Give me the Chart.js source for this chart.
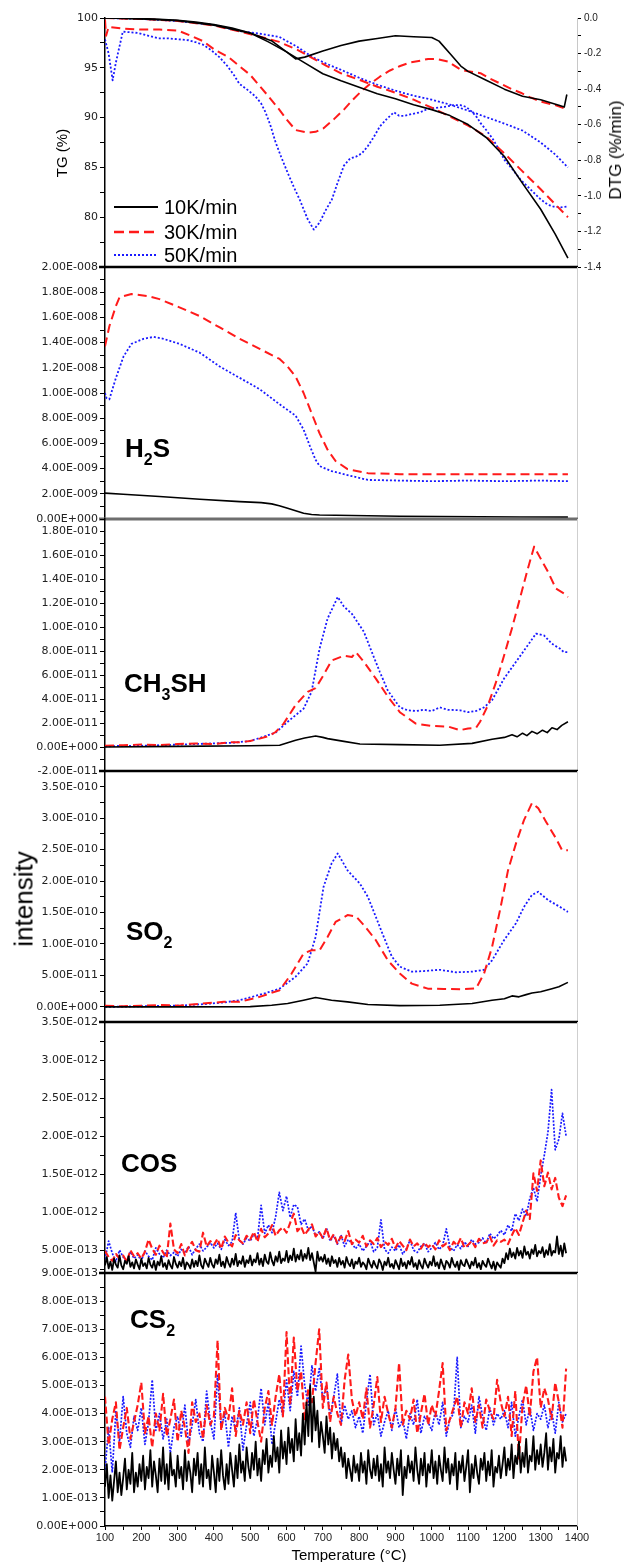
<!DOCTYPE html>
<html><head><meta charset="utf-8">
<script src="https://cdn.jsdelivr.net/npm/chart.js@4/dist/chart.umd.min.js"></script>
<style>
html,body{margin:0;padding:0;background:#fff;}
#wrap{position:relative;width:625px;height:1562px;overflow:hidden;font-family:"Liberation Sans",Arial,sans-serif;color:#000;}
canvas{position:absolute;left:0;}
.rot{position:absolute;transform:translate(-50%,-50%) rotate(-90deg);white-space:nowrap;z-index:5;}
.gas{position:absolute;font-weight:bold;font-size:26px;line-height:26px;white-space:nowrap;z-index:5;}
.gas sub{font-size:16px;vertical-align:-8px;line-height:0;}
.leg{position:absolute;left:164px;font-size:20px;line-height:20px;white-space:nowrap;z-index:5;}
.legsvg{position:absolute;left:114px;z-index:5;}
</style></head>
<body><div id="wrap">
<canvas id="p1" width="625" height="273" style="top:6px"></canvas>
<canvas id="p2" width="625" height="276" style="top:255px"></canvas>
<canvas id="p3" width="625" height="276" style="top:507px"></canvas>
<canvas id="p4" width="625" height="275" style="top:759px"></canvas>
<canvas id="p5" width="625" height="275" style="top:1010px"></canvas>
<canvas id="p6" width="625" height="301" style="top:1261px"></canvas>

<div class="rot" style="left:61px;top:153px;font-size:15px">TG (%)</div>
<div class="rot" style="left:616px;top:150px;font-size:17px">DTG (%/min)</div>
<div class="rot" style="left:24px;top:899px;font-size:26px">intensity</div>
<div style="position:absolute;left:349px;top:1554px;transform:translate(-50%,-50%);font-size:15px;white-space:nowrap;z-index:5">Temperature (°C)</div>

<svg class="legsvg" style="top:204px" width="46" height="6"><line x1="0" y1="3" x2="44" y2="3" stroke="#000" stroke-width="2"/></svg>
<svg class="legsvg" style="top:229px" width="46" height="6"><line x1="0" y1="3" x2="44" y2="3" stroke="#ff1a1a" stroke-width="2.5" stroke-dasharray="10 5"/></svg>
<svg class="legsvg" style="top:252px" width="46" height="6"><line x1="0" y1="3" x2="44" y2="3" stroke="#1a1aff" stroke-width="2" stroke-dasharray="2 2"/></svg>
<div class="leg" style="top:197px">10K/min</div>
<div class="leg" style="top:222px">30K/min</div>
<div class="leg" style="top:245px">50K/min</div>

<div class="gas" style="left:125px;top:435px">H<sub>2</sub>S</div>
<div class="gas" style="left:124px;top:670px">CH<sub>3</sub>SH</div>
<div class="gas" style="left:126px;top:918px">SO<sub>2</sub></div>
<div class="gas" style="left:121px;top:1150px">COS</div>
<div class="gas" style="left:130px;top:1306px">CS<sub>2</sub></div>
</div>
<script>
// ---------- temperature grids (°C) ----------
const temps10 = [100,110,120,130,140,150,160,170,180,190,
200,210,220,230,240,250,260,270,280,290,
300,310,320,330,340,350,360,370,380,390,
400,410,420,430,440,450,460,470,480,490,
500,510,520,530,540,550,560,570,580,590,
600,610,620,630,640,650,660,670,680,690,
700,710,720,730,740,750,760,770,780,790,
800,810,820,830,840,850,860,870,880,890,
900,910,920,930,940,950,960,970,980,990,
1000,1010,1020,1030,1040,1050,1060,1070,1080,1090,
1100,1110,1120,1130,1140,1150,1160,1170,1180,1190,
1200,1210,1220,1230,1240,1250,1260,1270,1280,1290,
1300,1310,1320,1330,1340,1350,1360,1370];
const temps5 = [100,105,110,115,120,125,130,135,140,145,
150,155,160,165,170,175,180,185,190,195,
200,205,210,215,220,225,230,235,240,245,
250,255,260,265,270,275,280,285,290,295,
300,305,310,315,320,325,330,335,340,345,
350,355,360,365,370,375,380,385,390,395,
400,405,410,415,420,425,430,435,440,445,
450,455,460,465,470,475,480,485,490,495,
500,505,510,515,520,525,530,535,540,545,
550,555,560,565,570,575,580,585,590,595,
600,605,610,615,620,625,630,635,640,645,
650,655,660,665,670,675,680,685,690,695,
700,705,710,715,720,725,730,735,740,745,
750,755,760,765,770,775,780,785,790,795,
800,805,810,815,820,825,830,835,840,845,
850,855,860,865,870,875,880,885,890,895,
900,905,910,915,920,925,930,935,940,945,
950,955,960,965,970,975,980,985,990,995,
1000,1005,1010,1015,1020,1025,1030,1035,1040,1045,
1050,1055,1060,1065,1070,1075,1080,1085,1090,1095,
1100,1105,1110,1115,1120,1125,1130,1135,1140,1145,
1150,1155,1160,1165,1170,1175,1180,1185,1190,1195,
1200,1205,1210,1215,1220,1225,1230,1235,1240,1245,
1250,1255,1260,1265,1270,1275,1280,1285,1290,1295,
1300,1305,1310,1315,1320,1325,1330,1335,1340,1345,
1350,1355,1360,1365,1370];

// ---------- Panel 1: TG (%) and DTG (%/min) ----------
const tgBlackT = [100,150,200,250,300,350,400,450,500,550,600,650,700,750,800,850,900,950,1000,1050,1100,1150,1200,1250,1300,1340,1375];
const tgBlackV = [100,99.98,99.94,99.87,99.77,99.6,99.35,99.0,98.5,97.6,96.6,95.5,94.4,93.7,93.05,92.4,91.9,91.3,90.8,90.2,89.3,88.0,86.1,83.4,80.8,78.3,75.9];
const tgRedT = [100,200,300,400,470,530,580,630,670,710,750,800,850,900,950,1000,1050,1100,1150,1200,1250,1300,1340,1375];
const tgRedV = [100,99.9,99.7,99.25,98.65,98.1,97.6,96.8,96.0,95.2,94.45,93.8,93.1,92.5,91.8,91.0,90.1,89.2,88.1,86.4,84.6,82.8,81.3,80.0];
const tgBlueT = [100,200,300,400,470,530,580,630,670,710,750,800,850,900,950,1000,1050,1100,1150,1200,1250,1300,1340,1375];
const tgBlueV = [100,99.9,99.7,99.3,98.7,98.4,98.1,97.1,96.1,95.4,94.8,94.0,93.3,92.7,92.2,91.8,91.3,90.7,90.05,89.4,88.7,87.5,86.3,85.0];
const dtgBlackT = [100,200,300,400,500,560,600,625,650,700,750,800,850,900,950,1000,1020,1050,1080,1100,1150,1200,1250,1300,1350,1365,1372];
const dtgBlackV = [0,-0.005,-0.015,-0.04,-0.085,-0.13,-0.19,-0.23,-0.22,-0.185,-0.155,-0.13,-0.115,-0.10,-0.105,-0.11,-0.13,-0.20,-0.27,-0.30,-0.35,-0.40,-0.44,-0.46,-0.49,-0.50,-0.43];
const dtgRedT = [100,103,110,150,200,250,300,337,370,403,440,470,500,525,550,580,600,625,658,680,702,730,758,780,802,830,857,885,913,940,968,990,1012,1045,1079,1100,1134,1160,1190,1220,1245,1270,1300,1340,1375];
const dtgRedV = [-0.01,-0.1,-0.05,-0.06,-0.065,-0.065,-0.07,-0.10,-0.13,-0.18,-0.22,-0.27,-0.32,-0.38,-0.44,-0.515,-0.57,-0.63,-0.645,-0.64,-0.62,-0.57,-0.515,-0.465,-0.42,-0.37,-0.33,-0.295,-0.27,-0.25,-0.24,-0.23,-0.23,-0.245,-0.29,-0.30,-0.31,-0.34,-0.37,-0.40,-0.42,-0.445,-0.47,-0.49,-0.515];
const dtgBlueT = [100,110,121,130,149,170,193,220,248,275,304,330,348,370,392,415,437,455,470,490,514,530,542,555,570,585,603,620,636,658,675,691,708,725,740,758,775,791,808,824,840,857,875,896,910,924,945,968,990,1012,1035,1060,1079,1095,1112,1125,1134,1150,1168,1185,1201,1222,1245,1270,1300,1320,1335,1355,1375];
const dtgBlueV = [-0.12,-0.2,-0.35,-0.25,-0.077,-0.08,-0.085,-0.1,-0.114,-0.115,-0.12,-0.125,-0.135,-0.15,-0.18,-0.22,-0.27,-0.32,-0.37,-0.4,-0.44,-0.48,-0.53,-0.6,-0.70,-0.78,-0.87,-0.95,-1.02,-1.13,-1.19,-1.15,-1.08,-1.02,-0.93,-0.83,-0.79,-0.78,-0.76,-0.72,-0.67,-0.61,-0.57,-0.53,-0.55,-0.55,-0.54,-0.53,-0.51,-0.505,-0.50,-0.49,-0.49,-0.50,-0.53,-0.56,-0.59,-0.63,-0.68,-0.74,-0.80,-0.85,-0.91,-0.96,-1.02,-1.05,-1.06,-1.065,-1.06];

// ---------- Panel 2: H2S (units of 1E-9) ----------
const h2sRedT = [100,112,130,140,173,217,250,305,361,416,471,526,581,603,625,647,669,691,713,735,768,824,912,1000,1100,1200,1300,1375];
const h2sRedV = [13.7,15.3,16.9,17.6,17.85,17.7,17.45,16.8,16.1,15.2,14.3,13.5,12.7,12.1,11.3,10.0,8.4,6.8,5.5,4.6,3.96,3.64,3.56,3.55,3.56,3.55,3.56,3.56];
const h2sBlueT = [100,104,112,129,151,173,206,234,261,305,361,416,471,526,581,625,647,664,680,691,724,780,824,912,1000,1100,1200,1300,1375];
const h2sBlueV = [10.0,9.6,9.5,11.1,12.9,13.9,14.3,14.45,14.3,13.9,13.2,12.1,11.2,10.3,9.1,8.2,7.1,5.8,4.7,4.2,3.8,3.4,3.1,3.05,3.0,3.05,3.0,3.05,3.0];
const h2sBlackT = [100,150,250,361,471,530,559,580,603,625,647,669,691,780,912,1022,1133,1243,1375];
const h2sBlackV = [2.05,1.97,1.78,1.57,1.38,1.3,1.2,1.05,0.85,0.65,0.45,0.36,0.32,0.28,0.22,0.2,0.18,0.16,0.15];

// ---------- Panel 3: CH3SH (units of 1E-11) ----------
const ch3shRedT = [100,150,200,250,300,350,400,450,471,500,526,550,570,592,625,658,680,702,724,758,780,791,813,846,879,912,956,1001,1045,1078,1100,1122,1133,1155,1177,1199,1221,1243,1265,1282,1298,1320,1342,1364,1375];
const ch3shRedV = [0.1,0.15,0.2,0.15,0.25,0.3,0.25,0.4,0.4,0.5,0.7,0.9,1.25,1.95,3.5,4.6,4.9,6.0,7.2,7.6,7.5,7.9,7.1,5.7,4.2,2.9,1.95,1.75,1.7,1.4,1.55,1.6,2.1,3.5,5.4,7.6,9.9,12.4,14.9,16.7,15.8,14.6,13.2,12.8,12.5];
const ch3shBlueT = [100,150,200,250,300,350,400,450,500,526,570,603,647,669,691,713,741,758,780,813,835,857,879,912,934,956,978,1000,1022,1045,1078,1100,1122,1144,1166,1199,1232,1265,1287,1309,1331,1353,1364,1375];
const ch3shBlueV = [0.05,0.1,0.1,0.15,0.2,0.25,0.3,0.35,0.5,0.75,1.2,2.1,3.2,4.6,8.2,10.7,12.5,11.7,11.1,9.6,7.9,6.25,4.7,3.3,3.06,3.0,3.1,3.0,3.3,3.1,3.06,2.9,3.0,3.3,3.9,5.7,7.1,8.5,9.45,9.3,8.6,8.2,7.9,7.9];
const ch3shBlackT = [100,300,500,581,625,650,680,700,713,758,802,912,1022,1111,1166,1200,1221,1235,1250,1262,1276,1290,1305,1318,1331,1345,1358,1375];
const ch3shBlackV = [0.0,0.05,0.1,0.15,0.56,0.75,0.92,0.8,0.7,0.47,0.25,0.2,0.14,0.3,0.64,0.8,1.03,0.85,1.15,0.95,1.3,1.1,1.4,1.2,1.6,1.45,1.8,2.1];

// ---------- Panel 4: SO2 (units of 1E-11) ----------
const so2RedT = [100,150,200,250,304,361,427,471,526,581,614,647,669,691,713,735,768,791,813,846,879,912,945,989,1033,1078,1122,1144,1166,1188,1210,1232,1254,1276,1293,1315,1342,1359,1375];
const so2RedV = [0.2,0.1,0.2,0.3,0.2,0.5,0.8,0.8,1.6,2.65,5.3,8.5,9.0,9.0,11.1,13.5,14.6,14.4,13.0,10.6,7.4,5.3,3.7,2.9,2.85,2.8,2.95,5.3,9.5,15.4,21.7,26.0,29.7,32.4,31.6,29.4,26.8,24.9,24.9];
const so2BlueT = [100,200,304,361,427,471,537,581,625,658,680,702,724,741,768,802,824,846,868,890,912,945,978,1022,1067,1111,1144,1166,1199,1232,1254,1276,1293,1320,1353,1375];
const so2BlueV = [0.0,0.1,0.2,0.4,0.7,1.07,2.1,2.9,4.8,6.9,11.1,19.1,22.8,24.4,21.7,19.6,17.5,14.3,11.1,8.0,6.4,5.6,5.7,5.9,5.5,5.6,5.9,7.4,10.6,13.3,15.9,17.8,18.3,17.0,15.9,15.1];
const so2BlackT = [100,300,500,559,603,647,680,700,724,768,824,912,1022,1111,1166,1200,1221,1240,1260,1276,1300,1331,1350,1375];
const so2BlackV = [0,0,0.05,0.27,0.53,1.07,1.5,1.3,1.07,0.8,0.37,0.2,0.27,0.53,1.07,1.3,1.75,1.6,1.95,2.2,2.4,2.9,3.2,3.9];

// ---------- Panel 5: COS (units of 1E-13) ----------
const cosBlackV = [3.0,4.1,2.6,3.5,2.4,3.9,3.1,2.7,4.3,3.0,
2.5,3.6,3.2,4.2,2.8,3.4,2.6,3.8,3.1,2.5,
3.9,2.9,3.3,2.6,4.0,3.1,2.7,3.6,2.4,3.5,
3.0,4.2,2.8,3.3,2.5,3.7,3.0,2.6,4.1,3.2,
2.7,3.5,2.9,4.0,2.5,3.4,3.1,2.6,3.8,2.8,
3.6,2.9,4.3,3.0,2.6,3.9,3.3,2.8,4.0,3.1,
2.7,3.8,3.2,4.4,2.9,3.5,2.7,4.1,3.3,2.8,
3.9,3.1,4.5,2.9,3.6,3.2,4.2,2.8,3.7,3.3,
4.3,3.0,3.8,3.4,4.6,3.1,3.9,2.9,4.4,3.5,
3.2,4.7,3.6,3.0,4.2,3.5,4.8,3.3,3.9,3.6,
4.9,3.4,4.3,3.7,5.2,3.5,4.4,3.8,5.0,3.6,
4.5,3.9,5.3,3.7,4.6,3.4,2.2,4.8,3.6,4.1,
3.5,4.4,3.2,3.9,2.9,4.2,3.3,3.7,2.8,4.0,
3.1,3.6,2.7,4.1,3.3,2.9,3.8,2.6,3.5,3.2,
4.0,2.8,3.4,3.1,2.5,3.9,3.2,2.7,3.6,3.0,
2.6,3.8,3.3,2.4,3.5,3.0,4.0,2.8,3.2,2.6,
3.7,3.1,2.5,3.9,2.9,3.4,2.6,3.6,3.1,4.1,
2.8,3.3,2.5,3.7,3.0,2.6,3.9,3.2,2.7,3.5,
3.0,4.2,2.9,3.4,2.6,3.8,3.1,2.5,3.6,3.3,
2.7,4.0,3.2,2.8,3.5,2.4,3.7,3.1,2.9,3.8,
3.2,2.6,3.5,3.0,4.0,2.7,3.3,2.5,3.6,3.1,
2.8,3.9,3.2,2.6,3.5,2.4,3.4,3.0,2.7,3.9,
3.3,4.6,3.8,5.2,4.1,4.7,3.9,5.3,4.3,4.9,
4.0,5.5,4.4,4.8,3.9,5.1,4.5,5.7,4.2,4.9,
4.6,5.4,4.1,5.0,4.4,5.8,4.3,4.9,4.7,6.8,
4.5,5.6,4.2,5.9,4.6];
const cosRedV = [4.9,4.1,3.6,4.5,3.9,4.3,3.5,5.0,4.2,4.6,
3.9,4.8,6.4,5.2,4.4,5.6,4.7,4.0,8.5,5.1,
4.6,5.8,4.3,5.4,6.1,5.0,4.8,7.3,5.5,6.2,
5.7,6.5,5.2,6.8,6.0,5.5,7.0,6.3,5.9,6.9,
6.4,7.4,6.1,7.8,6.7,7.2,8.3,6.9,7.6,8.0,
7.3,8.6,9.8,7.5,8.1,7.0,7.7,8.4,6.8,7.4,
6.6,7.9,6.3,7.1,5.9,6.8,6.2,7.5,5.8,6.4,
6.0,6.9,5.5,6.3,5.8,6.6,5.4,6.1,5.7,6.5,
5.3,6.2,5.6,5.0,6.4,5.5,5.9,5.2,6.0,5.4,
5.8,5.1,6.3,5.5,5.9,5.0,6.1,5.6,6.6,5.3,
5.7,6.2,5.4,6.5,5.9,6.0,6.8,5.6,6.3,6.1,
6.4,5.8,6.9,7.9,7.0,8.6,10.2,9.1,15.1,12.8,
16.8,13.4,15.2,13.0,14.5,11.9,10.8,12.2];
const cosBlueV = [3.8,6.2,4.6,3.5,5.0,4.1,3.3,4.8,3.9,4.4,
3.6,4.9,4.2,3.7,5.3,4.5,4.0,5.0,4.3,4.7,
4.2,5.1,4.6,5.5,4.4,5.2,5.8,4.9,5.4,6.0,
5.3,5.9,5.1,6.4,5.6,6.1,9.9,6.3,5.8,6.6,
6.2,7.1,6.5,10.9,7.2,8.3,7.3,9.4,12.6,10.2,
12.1,9.3,11.0,10.7,8.4,9.1,7.6,8.2,6.9,7.4,
6.5,7.9,6.2,6.9,5.8,7.0,5.5,6.4,5.9,5.2,
5.8,4.9,5.5,6.2,4.8,5.3,9.0,5.1,4.6,5.4,
4.9,5.7,4.5,5.2,6.3,5.0,4.7,5.5,5.9,4.8,
5.3,6.0,5.1,5.6,7.8,5.4,4.9,5.7,5.2,6.1,
5.5,6.4,5.8,6.0,6.6,5.9,7.2,6.5,6.9,7.6,
7.0,8.3,7.5,9.8,8.9,10.4,9.5,11.8,13.2,11.4,
14.8,17.5,20.5,26.1,18.2,19.6,23.0,20.0];

// ---------- Panel 6: CS2 (units of 1E-13) ----------
const cs2BlackV = [1.4,2.2,1.0,1.8,0.9,1.6,2.3,1.2,1.9,1.1,
1.7,2.4,1.3,2.0,1.5,2.6,1.2,1.9,1.4,2.2,
1.6,2.5,1.3,2.1,1.7,2.7,1.4,2.3,1.8,1.2,
2.4,1.6,2.8,1.5,2.2,1.3,2.6,1.8,2.0,1.4,
2.5,1.7,2.1,1.3,2.7,1.6,2.3,1.9,1.2,2.4,
1.8,2.6,1.5,2.2,1.4,2.8,1.7,2.0,1.3,2.5,
1.9,1.2,2.4,1.6,2.7,1.8,1.3,2.2,1.5,2.6,
2.0,1.4,2.5,1.7,2.9,1.9,2.3,1.6,2.8,2.1,
1.7,2.6,2.0,3.0,1.8,2.4,1.6,2.7,2.2,3.1,
1.9,2.5,2.1,3.2,2.3,2.8,1.9,3.4,2.4,3.0,
2.2,3.5,2.6,3.1,2.3,3.8,2.7,3.3,2.5,4.0,
2.9,4.4,3.2,5.0,3.0,4.6,3.4,4.1,2.8,3.7,
3.2,2.6,3.9,2.9,3.5,2.4,3.3,2.7,3.1,2.3,
2.8,2.1,2.6,1.7,2.4,2.0,1.6,2.5,1.9,2.2,
1.6,2.6,1.9,2.3,1.5,2.7,2.0,1.7,2.4,1.8,
2.5,1.6,2.2,1.4,2.8,1.9,2.3,1.7,2.6,2.0,
1.5,2.4,1.8,2.7,1.1,2.1,1.7,2.5,1.9,2.3,
1.6,2.8,2.0,1.5,2.4,1.8,2.6,1.4,2.2,1.9,
2.7,1.7,2.3,1.5,2.5,2.0,1.6,2.8,1.9,2.4,
1.5,2.2,1.8,2.6,1.3,2.3,1.9,2.5,1.6,2.1,
2.7,1.2,2.2,1.7,2.5,1.9,1.5,2.4,2.0,2.6,
1.6,2.3,1.8,2.7,1.4,2.1,1.9,2.5,1.7,2.2,
2.8,1.8,2.4,2.0,2.9,1.7,2.5,2.2,3.0,1.9,
2.6,2.1,3.1,1.9,2.5,2.3,3.2,2.0,2.7,2.2,
2.9,2.1,2.6,3.3,2.0,2.8,2.3,3.1,1.9,2.6,
2.4,3.2,2.1,2.8,2.3];
const cs2RedV = [4.6,2.9,3.8,4.4,2.7,3.5,4.2,3.1,3.7,4.3,
5.1,3.3,3.9,2.8,4.0,3.4,4.7,3.2,3.8,4.5,
3.0,4.1,3.5,2.6,4.4,3.7,4.0,3.1,4.3,3.6,
3.9,6.6,3.4,4.2,3.8,4.9,3.2,4.1,3.6,4.4,
3.3,4.5,3.7,3.0,4.2,4.8,3.6,4.6,5.4,3.9,
6.9,4.3,6.7,4.8,5.5,3.8,4.9,4.4,5.8,7.0,
4.2,5.1,3.7,4.6,4.0,3.6,5.2,6.1,4.5,3.9,
4.4,3.8,4.9,3.5,4.3,5.3,3.7,4.6,4.0,3.5,
4.2,5.8,3.6,4.1,3.8,4.5,3.3,4.0,4.7,3.6,
4.3,3.9,4.8,5.8,3.4,3.8,4.2,4.6,3.5,4.4,
4.0,4.9,3.7,4.3,3.5,4.5,4.1,3.8,5.2,4.4,
3.9,4.6,3.2,4.8,2.4,4.3,5.0,3.9,5.5,6.0,
4.2,4.9,4.5,3.8,5.1,4.4,3.5,5.6];
const cs2BlueV = [2.0,3.5,1.9,4.1,3.0,4.6,3.3,2.8,3.9,3.4,
4.2,2.9,3.7,5.2,3.4,4.0,3.1,3.8,2.6,3.5,
3.9,3.2,4.3,2.9,3.6,4.5,3.3,3.0,4.8,3.7,
3.1,5.4,3.5,4.0,2.8,3.9,3.4,4.2,2.7,3.6,
4.4,3.2,3.8,4.9,3.6,4.4,2.9,3.7,4.5,3.9,
5.2,4.1,5.5,4.6,6.4,5.0,4.3,5.7,4.8,5.6,
4.5,5.0,3.9,4.6,5.4,3.6,4.3,3.8,4.1,3.5,
3.9,3.3,4.4,5.4,3.6,4.0,3.2,3.7,4.1,3.4,
4.2,3.5,3.8,3.1,4.0,3.6,4.5,3.3,3.9,3.7,
3.4,4.1,3.6,4.4,3.2,3.8,4.0,6.0,3.5,3.9,
3.7,4.3,3.3,4.6,3.9,3.4,4.2,3.6,4.0,3.8,
4.1,3.5,4.4,3.2,3.9,4.5,3.6,4.2,3.4,4.0,
3.8,4.3,3.5,4.1,3.3,4.4,3.7,4.0];

// ---------- axis ticks and labels ----------
const xTickValues = [100,200,300,400,500,600,700,800,900,1000,1100,1200,1300,1400];
const tgTicks = [80,85,90,95,100];
const tgLabels = ['80','85','90','95','100'];
const dtgTicks = [0,-0.2,-0.4,-0.6,-0.8,-1.0,-1.2,-1.4];
const dtgLabels = ['0.0','-0.2','-0.4','-0.6','-0.8','-1.0','-1.2','-1.4'];
const h2sTicks = [0,2,4,6,8,10,12,14,16,18,20];
const h2sLabels = ['0.00E+000','2.00E-009','4.00E-009','6.00E-009','8.00E-009','1.00E-008','1.20E-008','1.40E-008','1.60E-008','1.80E-008','2.00E-008'];
const ch3shTicks = [-2,0,2,4,6,8,10,12,14,16,18];
const ch3shLabels = ['-2.00E-011','0.00E+000','2.00E-011','4.00E-011','6.00E-011','8.00E-011','1.00E-010','1.20E-010','1.40E-010','1.60E-010','1.80E-010'];
const so2Ticks = [0,5,10,15,20,25,30,35];
const so2Labels = ['0.00E+000','5.00E-011','1.00E-010','1.50E-010','2.00E-010','2.50E-010','3.00E-010','3.50E-010'];
const cosTicks = [5,10,15,20,25,30,35];
const cosLabels = ['5.00E-013','1.00E-012','1.50E-012','2.00E-012','2.50E-012','3.00E-012','3.50E-012'];
const cs2Ticks = [0,1,2,3,4,5,6,7,8,9];
const cs2Labels = ['0.00E+000','1.00E-013','2.00E-013','3.00E-013','4.00E-013','5.00E-013','6.00E-013','7.00E-013','8.00E-013','9.00E-013'];

// ---------- helpers ----------
function tickList(min, max, step){
  const out=[]; const k0=Math.ceil(min/step-1e-9), k1=Math.floor(max/step+1e-9);
  for(let k=k0;k<=k1;k++) out.push(+(k*step).toFixed(6));
  return out;
}
function labelOf(v, majors, labels){
  for(let i=0;i<majors.length;i++){ if(Math.abs(v-majors[i])<1e-6) return labels[i]; }
  return '';
}
const STY = {
  k:{borderColor:'#000000', borderWidth:1.6},
  r:{borderColor:'#ff1a1a', borderWidth:2, borderDash:[9,5]},
  b:{borderColor:'#1a1aff', borderWidth:1.8, borderDash:[2,2]}
};
const NSTY = {
  k:{borderColor:'#000000', borderWidth:1.8},
  r:{borderColor:'#ff1a1a', borderWidth:2.1, borderDash:[7,3]},
  b:{borderColor:'#1a1aff', borderWidth:1.7, borderDash:[2,1.5]}
};
function ds(label, T, V, sty, axis){
  return Object.assign({label, data:T.map((t,i)=>({x:t,y:V[i]})), pointRadius:0, tension:0, fill:false,
    yAxisID:axis||'y', borderJoinStyle:'round'}, sty);
}
function yScale(o){
  const list = tickList(o.min, o.max, o.minor);
  return {
    type:'linear', position:o.pos||'left', min:o.min, max:o.max,
    afterFit(s){ s.width = o.width; },
    afterBuildTicks(ax){ ax.ticks = list.map(v=>({value:v})); },
    ticks:{autoSkip:false, padding:o.pad!=null?o.pad:2, color:'#222',
      font:{family:o.family||'DejaVu Sans', size:o.size||11},
      callback:(v)=>labelOf(v, o.major, o.labels)},
    grid:{drawOnChartArea:false, drawTicks:true, tickLength:o.tickLen||5, tickColor:'#000', tickWidth:1},
    border:{display:true, color:o.borderColor||'#000', width:o.borderWidth||1.5}
  };
}
const xHidden = {type:'linear', min:100, max:1400, display:false};
const xShown = {
  type:'linear', min:100, max:1400, position:'bottom',
  afterFit(s){ s.height = 36; },
  afterBuildTicks(ax){ ax.ticks = tickList(100,1400,50).map(v=>({value:v})); },
  ticks:{autoSkip:false, maxRotation:0, minRotation:0, padding:1, color:'#222',
    font:{family:'Liberation Sans', size:11},
    callback:(v)=> xTickValues.includes(Math.round(v)) ? String(Math.round(v)) : ''},
  grid:{drawOnChartArea:false, drawTicks:true, tickLength:4, tickColor:'#000'},
  border:{display:true, color:'#000', width:1.5}
};
const framePlugin = {
  id:'frame',
  afterDraw(chart, args, opts){
    const a = chart.chartArea, c = chart.ctx;
    c.save();
    if(opts.rightLine){
      c.strokeStyle='#cfcfcf'; c.lineWidth=1; c.beginPath();
      c.moveTo(a.right+0.5, a.top); c.lineTo(a.right+0.5, a.bottom); c.stroke();
    }
    if(opts.sep){
      c.strokeStyle=opts.sepColor||'#000'; c.lineWidth=opts.sepWidth||2.5; c.beginPath();
      c.moveTo(a.left-6, a.bottom); c.lineTo(a.right+1, a.bottom); c.stroke();
    }
    c.restore();
  }
};
function makePanel(id, datasets, yScales, frame, xOpts, padding){
  return new Chart(document.getElementById(id), {
    type:'line',
    data:{datasets},
    options:{
      responsive:false, animation:false, events:[],
      layout:{padding},
      plugins:{legend:{display:false}, tooltip:{enabled:false}, frame},
      scales:Object.assign({x:xOpts}, yScales)
    },
    plugins:[framePlugin]
  });
}
const padStd = {top:12, bottom:12, left:0, right:48};

// Panel 1
makePanel('p1', [
  ds('10K/min TG', tgBlackT, tgBlackV, STY.k, 'y'),
  ds('10K/min DTG', dtgBlackT, dtgBlackV, STY.k, 'y2'),
  ds('30K/min TG', tgRedT, tgRedV, STY.r, 'y'),
  ds('30K/min DTG', dtgRedT, dtgRedV, STY.r, 'y2'),
  ds('50K/min TG', tgBlueT, tgBlueV, STY.b, 'y'),
  ds('50K/min DTG', dtgBlueT, dtgBlueV, STY.b, 'y2')
], {
  y: yScale({min:75, max:100, minor:2.5, major:tgTicks, labels:tgLabels, width:105}),
  y2: yScale({pos:'right', min:-1.4, max:0, minor:0.1, major:dtgTicks, labels:dtgLabels, width:48,
    family:'Liberation Sans', size:10, pad:3, tickLen:4, borderColor:'#c8c8c8', borderWidth:1})
}, {sep:true, sepColor:'#000', sepWidth:2.5}, xHidden, {top:12, bottom:12, left:0, right:0});

// Panel 2 H2S
makePanel('p2', [
  ds('10K/min', h2sBlackT, h2sBlackV, STY.k),
  ds('30K/min', h2sRedT, h2sRedV, STY.r),
  ds('50K/min', h2sBlueT, h2sBlueV, STY.b)
], {y: yScale({min:0, max:20, minor:1, major:h2sTicks, labels:h2sLabels, width:105})},
 {sep:true, sepColor:'#6e6e6e', sepWidth:3, rightLine:true}, xHidden, padStd);

// Panel 3 CH3SH
makePanel('p3', [
  ds('10K/min', ch3shBlackT, ch3shBlackV, STY.k),
  ds('30K/min', ch3shRedT, ch3shRedV, STY.r),
  ds('50K/min', ch3shBlueT, ch3shBlueV, STY.b)
], {y: yScale({min:-2, max:19, minor:1, major:ch3shTicks, labels:ch3shLabels, width:105})},
 {sep:true, sepColor:'#000', sepWidth:2.5, rightLine:true}, xHidden, padStd);

// Panel 4 SO2
makePanel('p4', [
  ds('10K/min', so2BlackT, so2BlackV, STY.k),
  ds('30K/min', so2RedT, so2RedV, STY.r),
  ds('50K/min', so2BlueT, so2BlueV, STY.b)
], {y: yScale({min:-2.4, max:37.5, minor:2.5, major:so2Ticks, labels:so2Labels, width:105})},
 {sep:true, sepColor:'#000', sepWidth:2.5, rightLine:true}, xHidden, padStd);

// Panel 5 COS
makePanel('p5', [
  ds('10K/min', temps5, cosBlackV, NSTY.k),
  ds('30K/min', temps10, cosRedV, NSTY.r),
  ds('50K/min', temps10, cosBlueV, NSTY.b)
], {y: yScale({min:2, max:35, minor:2.5, major:cosTicks, labels:cosLabels, width:105})},
 {sep:true, sepColor:'#000', sepWidth:2.5, rightLine:true}, xHidden, padStd);

// Panel 6 CS2
makePanel('p6', [
  ds('10K/min', temps5, cs2BlackV, NSTY.k),
  ds('30K/min', temps10, cs2RedV, NSTY.r),
  ds('50K/min', temps10, cs2BlueV, NSTY.b)
], {y: yScale({min:0, max:9, minor:0.5, major:cs2Ticks, labels:cs2Labels, width:105})},
 {sep:false, rightLine:true}, xShown, {top:12, bottom:0, left:0, right:48});
</script>
</body></html>
